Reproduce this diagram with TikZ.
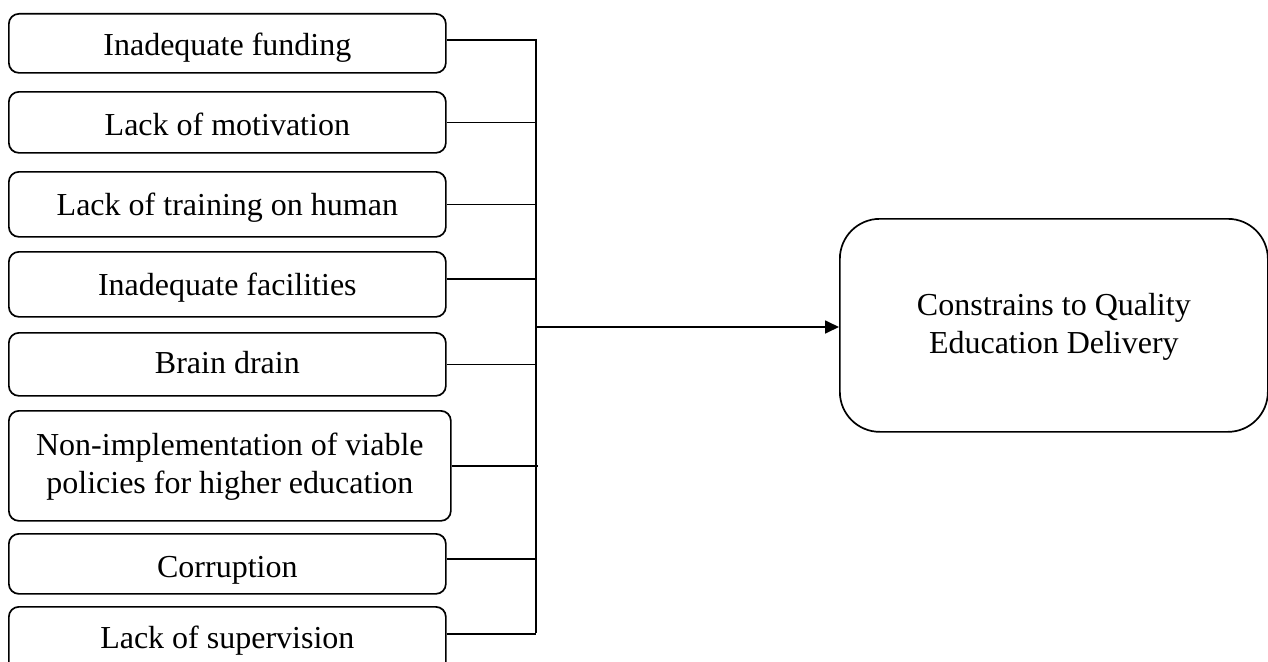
\documentclass[tikz,border=0pt]{standalone}
\usepackage{fontspec}
\setmainfont{Liberation Serif}
\usetikzlibrary{arrows.meta}
\begin{document}
\begin{tikzpicture}[x=1pt,y=-1pt,
  every node/.style={inner sep=0pt, font=\fontsize{32}{38}\selectfont},
  cause/.style={draw, line width=1.7pt, rounded corners=10pt, anchor=north west, minimum width=437pt},
  effect/.style={draw, line width=1.7pt, rounded corners=40pt, anchor=north west, minimum width=428pt},
  link/.style={line width=1.7pt},
  arrowlink/.style={line width=1.7pt, -{Triangle[length=14pt,width=13pt]}}]
\useasboundingbox (0,0) rectangle (1268,661);

\node[cause, text height=42pt, text depth=17pt] (b1) at (8,13) {Inadequate funding};
\node[cause, text height=44pt, text depth=17pt] (b2) at (8,91) {Lack of motivation};
\node[cause, text height=44pt, text depth=21pt] (b3) at (8,171) {Lack of training on human};
\node[cause, text height=44pt, text depth=21pt] (b4) at (8,251) {Inadequate facilities};
\node[cause, text height=41pt, text depth=22pt] (b5) at (8,332) {Brain drain};
\node[cause, minimum width=442pt, text height=83pt, text depth=27pt] (b6) at (8,410)
  {\begin{tabular}[b]{@{}c@{}}Non-implementation of viable\\policies for higher education\end{tabular}};
\node[cause, text height=44pt, text depth=16pt] (b7) at (8,533) {Corruption};
\node[cause, text height=42pt, text depth=30pt] (b8) at (8,606) {Lack of supervision};

\node[effect, text height=135pt, text depth=78pt] (e) at (839,218)
  {\begin{tabular}[b]{@{}c@{}}Constrains to Quality\\Education Delivery\end{tabular}};

\coordinate (sTop) at (536,39);
\coordinate (sBot) at (536,633);
\coordinate (sMid) at (536,327);

\draw[link] ([yshift=3.5pt]b1.east) -- ([yshift=3.5pt]b1.east -| sTop);
\draw[link] (b2.east) -- (b2.east -| sTop);
\draw[link] (b3.east) -- (b3.east -| sTop);
\draw[link] ([yshift=5.5pt]b4.east) -- ([yshift=5.5pt]b4.east -| sTop);
\draw[link] (b5.east) -- (b5.east -| sTop);
\draw[link] (b6.east) -- ([xshift=2pt]b6.east -| sTop);
\draw[link] ([yshift=5pt]b7.east) -- ([yshift=5pt]b7.east -| sTop);
\draw[link] ([yshift=9pt]b8.east) -- ([yshift=9pt]b8.east -| sTop);
\draw[link] (sTop) -- (sBot);
\draw[arrowlink] (sMid) -- (sMid -| e.west);
\end{tikzpicture}
\end{document}
